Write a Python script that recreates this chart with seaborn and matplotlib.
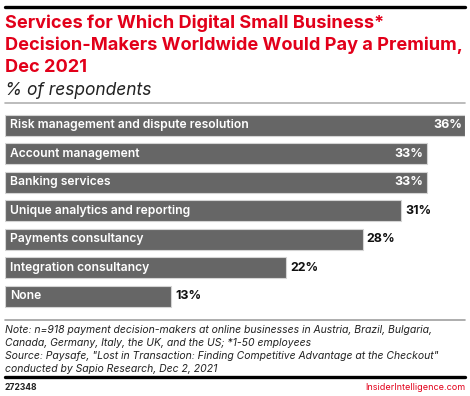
import matplotlib
matplotlib.use("Agg")
import matplotlib.pyplot as plt
import seaborn as sns
import pandas as pd
from matplotlib.lines import Line2D

categories = [
    "Risk management and dispute resolution",
    "Account management",
    "Banking services",
    "Unique analytics and reporting",
    "Payments consultancy",
    "Integration consultancy",
    "None",
]
values = [36, 33, 33, 31, 28, 22, 13]
value_labels = ["36%", "33%", "33%", "31%", "28%", "22%", "13%"]
inside_value = [True, True, True, False, False, False, False]

title_lines = ["Services for Which Digital Small Business*",
               "Decision-Makers Worldwide Would Pay a Premium,",
               "Dec 2021"]
subtitle = "% of respondents"
note_lines = ["Note: n=918 payment decision-makers at online businesses in Austria, Brazil, Bulgaria,",
              "Canada, Germany, Italy, the UK, and the US; *1-50 employees",
              "Source: Paysafe, \"Lost in Transaction: Finding Competitive Advantage at the Checkout\"",
              "conducted by Sapio Research, Dec 2, 2021"]
chart_id = "272348"
brand = "InsiderIntelligence.com"

sns.set_theme(style="white")
plt.rcParams['font.family'] = ['Inter', 'DejaVu Sans']

W, H = 470, 396
fig = plt.figure(figsize=(W / 100, H / 100), dpi=100)
renderer = fig.canvas.get_renderer()

def fy(py):
    return 1 - py / H

def fx(px):
    return px / W

def fit(t, target_px):
    w = t.get_window_extent(renderer).width
    t.set_fontsize(t.get_fontsize() * target_px / w)
    return t

RED = "#e2001a"

# top black rule
fig.add_artist(Line2D([fx(5), fx(465)], [fy(6.5), fy(6.5)], color="black", lw=2.4))
tts = []
for k, line in enumerate(title_lines):
    tts.append(fig.text(fx(5), fy(28.5 + 21.6 * k), line, color=RED, fontsize=13,
                        fontweight="bold", va="baseline", ha="left"))
fit(tts[1], 458)
for t in tts:
    t.set_fontsize(tts[1].get_fontsize())

st = fig.text(fx(5), fy(95), subtitle, color="#222222", fontsize=12, style="italic",
              va="baseline", ha="left")
fit(st, 147)
fig.add_artist(Line2D([fx(5), fx(465)], [fy(103), fy(103)], color="#b0b0b0", lw=1.2))

df = pd.DataFrame({"category": categories, "value": values})
ax = fig.add_axes([fx(5), fy(310.5), fx(460), (310.5 - 111) / H])
sns.barplot(data=df, y="category", x="value", orient="h", color="#666666",
            width=0.75, edgecolor="#d4d4d4", linewidth=0.8, saturation=1, ax=ax)
ax.set_xlim(0, 36)
ax.set_ylim(len(categories) - 0.5, -0.5)
ax.axis("off")

cat_texts = []
for i, (cat, v, lab, ins) in enumerate(zip(categories, values, value_labels, inside_value)):
    cat_texts.append(ax.text(0.4, i, cat, color="white", fontsize=9.5, fontweight="semibold",
                             va="center", ha="left"))
    if ins:
        vt = ax.text(v - 0.25, i, lab, color="white", fontsize=9.5, fontweight="bold",
                     va="center", ha="right")
    else:
        vt = ax.text(v + 0.3, i, lab, color="#111111", fontsize=9.5, fontweight="bold",
                     va="center", ha="left")
    if i == 0:
        fit(vt, 29)
        vfs = vt.get_fontsize()
    else:
        vt.set_fontsize(vfs)
fit(cat_texts[0], 240)
for t in cat_texts[1:]:
    t.set_fontsize(cat_texts[0].get_fontsize())

fig.add_artist(Line2D([fx(5), fx(465)], [fy(320), fy(320)], color="#a0a0a0", lw=1.2))
nts = []
for k, line in enumerate(note_lines):
    nts.append(fig.text(fx(5), fy(333 + 13 * k), line, color="#222222", fontsize=8.6,
                        style="italic", va="baseline", ha="left"))
fit(nts[0], 428)
for t in nts[1:]:
    t.set_fontsize(nts[0].get_fontsize())

fig.add_artist(Line2D([fx(5), fx(465)], [fy(377), fy(377)], color="black", lw=2.4))
idt = fig.text(fx(5), fy(390), chart_id, color="#222222", fontsize=7.5, fontweight="bold",
               va="baseline", ha="left")
fit(idt, 33)
bt = fig.text(fx(465), fy(390), brand, color=RED, fontsize=8.5,
              va="baseline", ha="right")
fit(bt, 99)

fig.savefig("out.png", dpi=100)
